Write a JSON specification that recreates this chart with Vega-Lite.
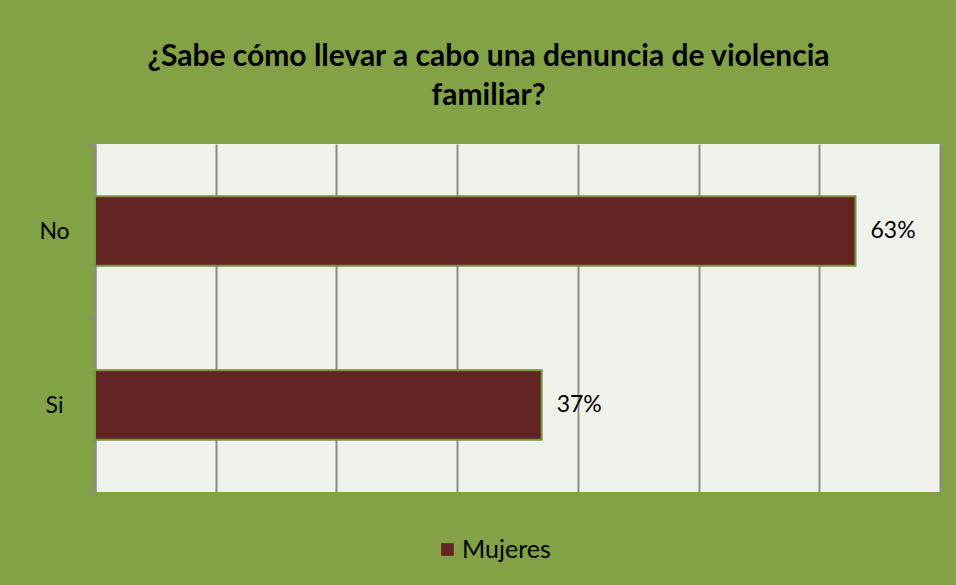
{
  "$schema": "https://vega.github.io/schema/vega-lite/v6.json",
  "width": 845,
  "height": 348,
  "autosize": {"type": "none"},
  "padding": {"left": 95, "top": 144, "right": 16, "bottom": 93},
  "background": "#82a245",
  "title": {
    "text": ["¿Sabe cómo llevar a cabo una denuncia de violencia", "familiar?"],
    "font": "Lato",
    "fontSize": 30,
    "fontWeight": "bold",
    "color": "#000000",
    "anchor": "middle",
    "frame": "group",
    "dx": -29,
    "offset": 22,
    "lineHeight": 39
  },
  "data": {
    "values": [
      {"respuesta": "No", "porcentaje": 0.63, "serie": "Mujeres"},
      {"respuesta": "Si", "porcentaje": 0.37, "serie": "Mujeres"}
    ]
  },
  "encoding": {
    "y": {
      "field": "respuesta",
      "type": "nominal",
      "sort": ["No", "Si"],
      "scale": {"paddingInner": 0, "paddingOuter": 0},
      "axis": {
        "title": null,
        "tickBand": "extent",
        "domainColor": "#8c8c8c",
        "domainWidth": 2,
        "tickColor": "#8c8c8c",
        "tickWidth": 2,
        "tickSize": 8,
        "labelFont": "Lato",
        "labelFontSize": 23,
        "labelColor": "#000000",
        "labelAlign": "center",
        "labelPadding": 33,
        "grid": false
      }
    },
    "x": {
      "field": "porcentaje",
      "type": "quantitative",
      "scale": {"domain": [0, 0.7], "nice": false},
      "axis": {
        "title": null,
        "labels": false,
        "ticks": false,
        "domain": false,
        "grid": true,
        "gridColor": "#8c8c8c",
        "gridWidth": 2,
        "values": [0, 0.1, 0.2, 0.3, 0.4, 0.5, 0.6, 0.7]
      }
    }
  },
  "layer": [
    {
      "mark": {"type": "bar", "height": {"band": 0.4}, "stroke": "#77933c", "strokeWidth": 2},
      "encoding": {
        "color": {
          "field": "serie",
          "type": "nominal",
          "scale": {"domain": ["Mujeres"], "range": ["#632523"]},
          "legend": {
            "title": null,
            "orient": "none",
            "legendX": 340,
            "legendY": 393,
            "symbolType": "square",
            "symbolSize": 160,
            "symbolStrokeWidth": 0,
            "labelFont": "Lato",
            "labelFontSize": 25,
            "labelColor": "#000000",
            "labelOffset": 2
          }
        }
      }
    },
    {
      "mark": {"type": "text", "align": "left", "dx": 15, "font": "Lato", "fontSize": 23, "color": "#000000"},
      "encoding": {"text": {"field": "porcentaje", "type": "quantitative", "format": ".0%"}}
    }
  ],
  "config": {"view": {"fill": "#eff2ea", "stroke": null}}
}
